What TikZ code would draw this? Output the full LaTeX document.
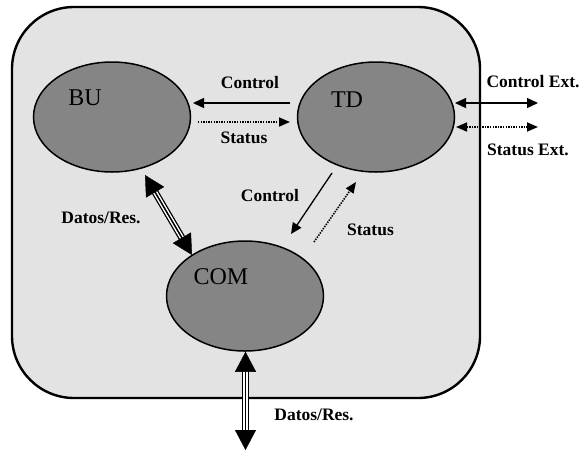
\documentclass[tikz,border=0pt]{standalone}
\usepackage{fontspec}
\setmainfont{Liberation Serif}
\usetikzlibrary{arrows.meta,calc,shapes.geometric}

\definecolor{boxgray}{HTML}{E3E3E3}
\definecolor{unitgray}{HTML}{858585}

% thick three-line data link with large heads at both ends
\newcommand\triplelink[2]{%
  \draw[line width=7pt, shorten <=12pt, shorten >=12pt] (#1) -- (#2);
  \draw[white, line width=4.4pt, shorten <=12pt, shorten >=12pt] (#1) -- (#2);
  \draw[line width=1.5pt, shorten <=12pt, shorten >=12pt] (#1) -- (#2);
  \draw[bigtips] (#1) -- (#2);
}

\begin{document}
\begin{tikzpicture}[x=1pt,y=-1pt,
  unit/.style={ellipse, draw=black, line width=1.5pt, fill=unitgray,
    minimum width=157pt, minimum height=110pt, inner sep=0pt},
  unitname/.style={font=\fontsize{24}{24}\selectfont, inner sep=0pt, text depth=0pt},
  lbl/.style={font=\bfseries\fontsize{17.5}{18}\selectfont, inner sep=0pt, text depth=0pt},
  ctrl/.style={line width=1.3pt, -{Triangle[length=11pt,width=10pt]}},
  ctrlboth/.style={line width=1.3pt, {Triangle[length=11pt,width=10pt]}-{Triangle[length=11pt,width=10pt]}},
  stat/.style={line width=1.6pt, dash pattern=on 1.4pt off 1.2pt, -{Triangle[length=11pt,width=9pt]}},
  statboth/.style={line width=1.6pt, dash pattern=on 1.4pt off 1.2pt,
    {Triangle[length=11pt,width=9pt]}-{Triangle[length=11pt,width=9pt]}},
  bigtips/.style={line width=0.4pt, {Triangle[length=20pt,width=21pt]}-{Triangle[length=20pt,width=21pt]}}
]
\useasboundingbox (0,0) rectangle (580,451);

% enclosing system block
\draw[line width=2.4pt, fill=boxgray, rounded corners=62pt] (12,7) rectangle (480,398);

% units
\node[unit] (bu)  at (112,117) {};
\node[unit] (td)  at (376,117) {};
\node[unit] (com) at (245,296) {};
\node[unitname] (bun)  at ($(bu.center)+(-27,-19)$)  {BU};
\node[unitname] (tdn)  at ($(td.center)+(-29,-17)$)  {TD};
\node[unitname] (comn) at ($(com.center)+(-24,-19)$) {COM};

% BU <-> TD
\draw[ctrl] ($(td.center)+(-86,-14)$) -- ($(bu.center)+(81,-14)$);
\draw[stat] ($(bu.center)+(86,5)$) -- ($(td.center)+(-86,5)$);
\node[lbl] (lc1) at (250,82) {Control};
\node[lbl] (ls1) at (244,138) {Status};

% TD <-> outside
\coordinate (ctrlext) at (538,103);
\coordinate (statext) at (538,127);
\draw[ctrlboth] ($(td.center)+(79,-14)$) -- (ctrlext);
\draw[statboth] ($(td.center)+(80,10)$) -- (statext);
\node[lbl] (lce) at (533,81) {Control Ext.};
\node[lbl] (lse) at (528,149.5) {Status Ext.};

% TD <-> COM
\draw[ctrl] ($(td.center)+(-44,56)$) -- ($(com.center)+(46,-62)$);
\draw[stat] ($(com.center)+(69,-54)$) -- ($(td.center)+(-20,65)$);
\node[lbl] (lc2) at (270,195.5) {Control};
\node[lbl] (ls2) at (370.5,229.5) {Status};

% BU <-> COM data
\coordinate (bucomA) at ($(bu.center)+(33,58)$);
\coordinate (bucomB) at ($(com.center)+(-53,-41)$);
\triplelink{bucomA}{bucomB}
\node[lbl] (ld1) at (101,218) {Datos/Res.};

% COM <-> outside data
\coordinate (comtop) at ($(com.south)+(0.5,0)$);
\coordinate (datosout) at (245.5,450);
\triplelink{comtop}{datosout}
\node[lbl] (ld2) at (314,415) {Datos/Res.};
\end{tikzpicture}
\end{document}
